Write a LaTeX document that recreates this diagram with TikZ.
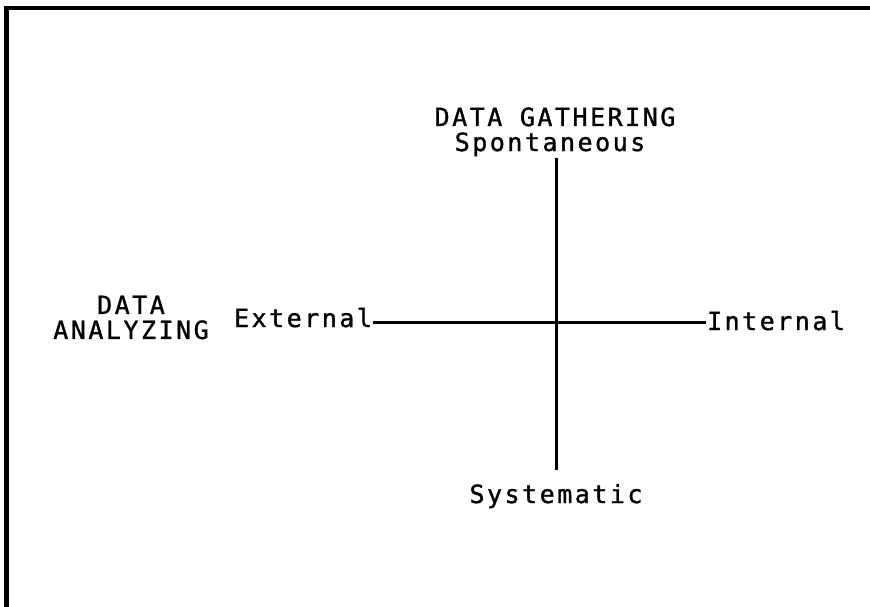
\documentclass[tikz,border=0pt]{standalone}
\usepackage{fontspec}
\newfontfamily\scanfont{DejaVu Sans Mono}[LetterSpace=10, FakeBold=1.2]
\usetikzlibrary{positioning,calc}

\begin{document}
\begin{tikzpicture}[x=1pt, y=1pt,
      lbl/.style={inner sep=0pt, font=\scanfont\fontsize{25}{25}\selectfont},
      axis/.style={line width=3pt, black},
      frame/.style={line width=4.5pt, black}]
    \useasboundingbox (0,0) rectangle (870,-607);
    \draw[frame] (870,-8) -- (6.5,-8) -- (6.5,-607);
    \coordinate (o) at (556,-322);
    \node[lbl, anchor=base] (gath) at (555,-126) {DATA GATHERING};
    \node[lbl, anchor=base] (spon) at (550,-151) {Spontaneous};
    \node[lbl, anchor=base] (sys)  at (556,-503) {Systematic};
    \node[lbl, align=center] (ana) at (131,-317.5) {DATA\\ANALYZING};
    \node[lbl, anchor=base] (ext)  at (303,-327) {External};
    \node[lbl, anchor=base] (int)  at (776,-330) {Internal};
    \draw[axis, shorten <=2pt, shorten >=14pt] (spon.south -| o) -- (sys.north -| o);
    \draw[axis, shorten <=1pt, shorten >=1pt] (ext.east |- o) -- (int.west |- o);
  \end{tikzpicture}
\end{document}
